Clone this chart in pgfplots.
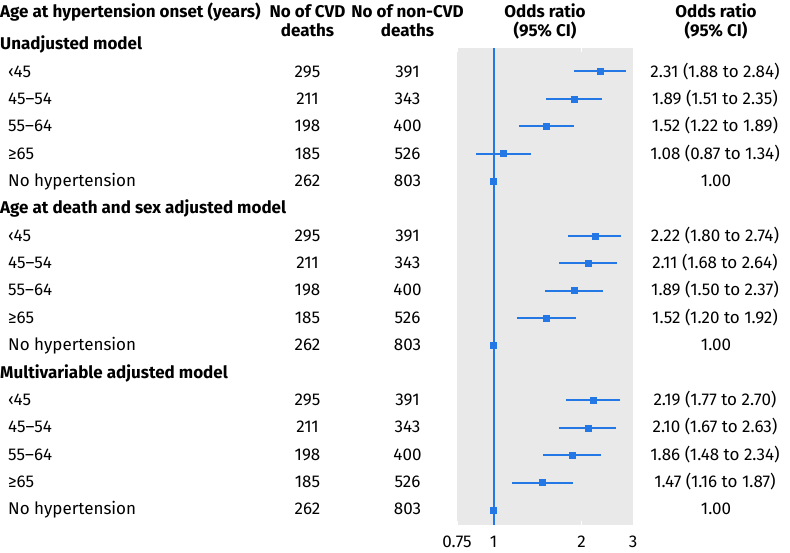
\documentclass[border=0pt]{standalone}
\usepackage{fontspec}
\setmainfont{Fira Sans}
\usepackage{pgfplots}
\pgfplotsset{compat=1.18}
\usepackage{pgfplotstable}
\definecolor{fblue}{RGB}{36,120,230}
\definecolor{panel}{RGB}{233,233,233}

\pgfplotstableread{
row or lo hi
2 2.31 1.88 2.84
3 1.89 1.51 2.35
4 1.52 1.22 1.89
5 1.08 0.87 1.34
6 1.00 1.00 1.00
8 2.22 1.80 2.74
9 2.11 1.68 2.64
10 1.89 1.50 2.37
11 1.52 1.20 1.92
12 1.00 1.00 1.00
14 2.19 1.77 2.70
15 2.10 1.67 2.63
16 1.86 1.48 2.34
17 1.47 1.16 1.87
18 1.00 1.00 1.00
}\ortable

\pgfplotstableread{
x y
1 1.146
1 18.55
}\refline

\newcommand{\ry}[1]{{44+(#1-1)*27.35}}

\begin{document}
\fontsize{17}{19}\selectfont
\begin{tikzpicture}
\path[use as bounding box] (0pt,0pt) rectangle (790pt,-553pt);
\begin{axis}[
  scale only axis, width=176pt, height=477pt,
  at={(457pt,-525pt)}, anchor=south west,
  xmode=log, xmin=0.75, xmax=3,
  ymin=1.146, ymax=18.55, y dir=reverse,
  axis background/.style={fill=panel},
  axis line style={draw=none},
  ytick=\empty,
  xtick={0.75,1,2,3}, xticklabels={0.75,1,2,3},
  xtick style={draw=white, line width=1pt},
  major tick length=4pt, tick align=inside,
  xticklabel style={font=\fontsize{17}{19}\selectfont, anchor=center, inner sep=0pt, text height=11.7pt, text depth=0pt, yshift=-17pt},
  clip=false,
]
\addplot[color=fblue, line width=2pt, mark=none] table[x=x, y=y] {\refline};
\addplot[only marks, mark=square*, mark size=3pt, color=fblue,
  error bars/.cd, x dir=both, x explicit, error mark=none,
  error bar style={line width=2pt, color=fblue}]
  table[x=or, y=row, x error plus expr=\thisrow{hi}-\thisrow{or}, x error minus expr=\thisrow{or}-\thisrow{lo}] {\ortable};
\end{axis}
\begin{scope}[x=1pt, y=-1pt, every node/.style={inner sep=0pt, text height=11.7pt, text depth=0pt}]
\tikzset{lab/.style={anchor=west}, hd/.style={anchor=west, font=\bfseries}, c/.style={anchor=center}, ch/.style={anchor=center, font=\bfseries}}
% headers
\node[hd] at (0,12) {Age at hypertension onset (years)};
\node[ch] at (307.5,12) {No of CVD};
\node[ch] at (307.5,31) {deaths};
\node[ch] at (407.5,12) {No of non-CVD};
\node[ch] at (407.5,31) {deaths};
\node[ch] at (545,12) {Odds ratio};
\node[ch] at (545,31) {(95\% CI)};
\node[ch] at (716,12) {Odds ratio};
\node[ch] at (716,31) {(95\% CI)};
% sections
\node[hd] at (0,\ry{1}) {Unadjusted model};
\node[hd] at (0,\ry{7}) {Age at death and sex adjusted model};
\node[hd] at (0,\ry{13}) {Multivariable adjusted model};
% rows
\foreach \b in {1,7,13} {
  \pgfmathsetmacro{\ya}{44+(\b+1-1)*27.35}
  \pgfmathsetmacro{\yb}{44+(\b+2-1)*27.35}
  \pgfmathsetmacro{\yc}{44+(\b+3-1)*27.35}
  \pgfmathsetmacro{\yd}{44+(\b+4-1)*27.35}
  \pgfmathsetmacro{\ye}{44+(\b+5-1)*27.35}
  \node[lab] at (8,\ya) {‹45};
  \node[lab] at (8,\yb) {45–54};
  \node[lab] at (8,\yc) {55–64};
  \node[lab] at (8,\yd) {≥65};
  \node[lab] at (8,\ye) {No hypertension};
  \node[c] at (307.5,\ya) {295};
  \node[c] at (307.5,\yb) {211};
  \node[c] at (307.5,\yc) {198};
  \node[c] at (307.5,\yd) {185};
  \node[c] at (307.5,\ye) {262};
  \node[c] at (407.5,\ya) {391};
  \node[c] at (407.5,\yb) {343};
  \node[c] at (407.5,\yc) {400};
  \node[c] at (407.5,\yd) {526};
  \node[c] at (407.5,\ye) {803};
  \node[c] at (716,\ye) {1.00};
}
\node[c] at (715,\ry{2}) {2.31 (1.88 to 2.84)};
\node[c] at (715,\ry{3}) {1.89 (1.51 to 2.35)};
\node[c] at (715,\ry{4}) {1.52 (1.22 to 1.89)};
\node[c] at (715,\ry{5}) {1.08 (0.87 to 1.34)};
\node[c] at (715,\ry{8}) {2.22 (1.80 to 2.74)};
\node[c] at (715,\ry{9}) {2.11 (1.68 to 2.64)};
\node[c] at (715,\ry{10}) {1.89 (1.50 to 2.37)};
\node[c] at (715,\ry{11}) {1.52 (1.20 to 1.92)};
\node[c] at (715,\ry{14}) {2.19 (1.77 to 2.70)};
\node[c] at (715,\ry{15}) {2.10 (1.67 to 2.63)};
\node[c] at (715,\ry{16}) {1.86 (1.48 to 2.34)};
\node[c] at (715,\ry{17}) {1.47 (1.16 to 1.87)};
\end{scope}
\end{tikzpicture}
\end{document}
